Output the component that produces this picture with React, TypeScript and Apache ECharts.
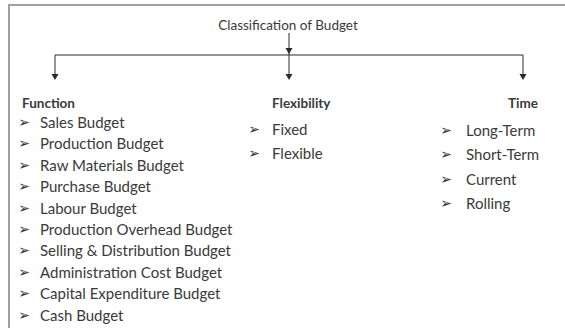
import React, { useEffect, useRef } from "react";
import * as echarts from "echarts";

const TITLE = "Classification of Budget";
const HEADERS = ["Function", "Flexibility", "Time"];
const FUNCTION_ITEMS = [
  "Sales Budget",
  "Production Budget",
  "Raw Materials Budget",
  "Purchase Budget",
  "Labour Budget",
  "Production Overhead Budget",
  "Selling & Distribution Budget",
  "Administration Cost Budget",
  "Capital Expenditure Budget",
  "Cash Budget",
];
const FLEXIBILITY_ITEMS = ["Fixed", "Flexible"];
const TIME_ITEMS = ["Long-Term", "Short-Term", "Current", "Rolling"];

const FONT = "Lato, 'Noto Sans', sans-serif";
const TEXT_COLOR = "#3a3a3a";
const LINE_COLOR = "#2a2a2a";

function arrowHead(x: number, y: number) {
  return {
    type: "polygon",
    shape: { points: [[x - 3.5, y - 6], [x + 3.5, y - 6], [x, y]] },
    style: { fill: LINE_COLOR },
    silent: true,
  };
}

function vline(x: number, y1: number, y2: number) {
  return {
    type: "line",
    shape: { x1: x, y1, x2: x, y2 },
    style: { stroke: LINE_COLOR, lineWidth: 1 },
    silent: true,
  };
}

function label(text: string, x: number, y: number, opts: any = {}) {
  return {
    type: "text",
    silent: true,
    style: {
      text,
      x,
      y,
      fill: TEXT_COLOR,
      fontFamily: FONT,
      fontSize: 13.5,
      verticalAlign: "middle",
      align: "left",
      ...opts,
    },
  };
}

function bulletList(items: string[], bx: number, tx: number, y0: number, step: number) {
  const els: any[] = [];
  items.forEach((t, i) => {
    const y = y0 + i * step;
    els.push(label("➢", bx, y, { fontFamily: "'DejaVu Sans', sans-serif", fontSize: 14, align: "center", fill: "#333" }));
    els.push(label(t, tx, y, { fontSize: 15 }));
  });
  return els;
}

export default function App() {
  const ref = useRef<HTMLDivElement>(null);
  useEffect(() => {
    if (!ref.current) return;
    const chart = echarts.init(ref.current, undefined, { renderer: "svg" });
    const cols = [55, 289, 523];
    const lineY = 55;
    const arrowTipY = 80;
    const headerY = 103;
    const elements: any[] = [
      { type: "line", shape: { x1: 9, y1: 5, x2: 565, y2: 5 }, style: { stroke: "#a0a0a0", lineWidth: 2 }, silent: true },
      { type: "line", shape: { x1: 9, y1: 4, x2: 9, y2: 328 }, style: { stroke: "#a0a0a0", lineWidth: 2 }, silent: true },
      label(TITLE, 288, 25, { align: "center" }),
      vline(289, 33, lineY),
      arrowHead(289, lineY - 1),
      {
        type: "line",
        shape: { x1: cols[0], y1: lineY, x2: cols[2], y2: lineY },
        style: { stroke: LINE_COLOR, lineWidth: 1 },
        silent: true,
      },
    ];
    cols.forEach((x) => {
      elements.push(vline(x, lineY, arrowTipY - 4));
      elements.push(arrowHead(x, arrowTipY));
    });
    elements.push(label(HEADERS[0], 22, headerY, { fontWeight: "bold" }));
    elements.push(label(HEADERS[1], 272, headerY, { fontWeight: "bold" }));
    elements.push(label(HEADERS[2], 538, headerY, { fontWeight: "bold", align: "right" }));
    elements.push(...bulletList(FUNCTION_ITEMS, 24, 40, 122, 21.4));
    elements.push(...bulletList(FLEXIBILITY_ITEMS, 254, 272, 129, 23.5));
    elements.push(...bulletList(TIME_ITEMS, 446, 466, 130, 24.4));

    chart.setOption({
      animation: false,
      backgroundColor: "#ffffff",
      graphic: { elements },
    });
    return () => chart.dispose();
  }, []);
  return (
    <div
      ref={ref}
      style={{ position: "fixed", left: 0, top: 0, width: 565, height: 328 }}
    />
  );
}
